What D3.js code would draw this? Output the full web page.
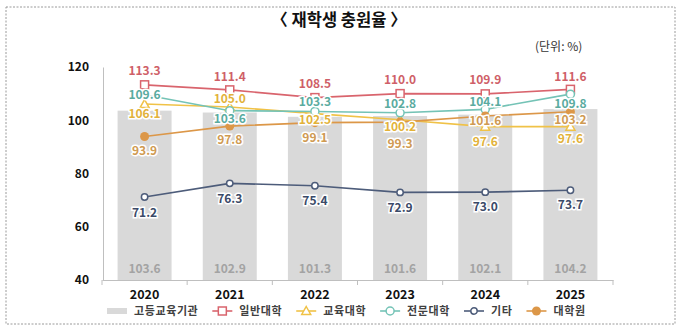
<!DOCTYPE html>
<html><head><meta charset="utf-8">
<script src="https://cdn.jsdelivr.net/npm/d3@7"></script>
<style>
html,body{margin:0;padding:0;background:#fff;}
svg{display:block;font-family:"Noto Sans CJK KR","Noto Sans",sans-serif;}
</style></head>
<body><svg id="c" width="680" height="334"></svg>
<script>
// ---- data ----
const years = ["2020","2021","2022","2023","2024","2025"];
const total = [103.6,102.9,101.3,101.6,102.1,104.2];      // 고등교육기관 (bars)
const general = [113.3,111.4,108.5,110.0,109.9,111.6];    // 일반대학
const education = [106.1,105.0,102.5,100.2,97.6,97.6];    // 교육대학
const junior = [109.6,103.6,103.3,102.8,104.1,109.8];     // 전문대학
const others = [71.2,76.3,75.4,72.9,73.0,73.7];           // 기타
const graduate = [93.9,97.8,99.1,99.3,101.6,103.2];       // 대학원
const yTicks = [40,60,80,100,120];
const title = "〈 재학생 충원율 〉";
const unit = "(단위: %)";

// label placement (vertical offset from marker, px)
const labelDy = {
  general:[-14,-13,-14,-14,-14,-13],
  education:[10,-8,6,7,15,12],
  junior:[0,8,-10,-9,-8,10],
  others:[16,15,15,15,15,15],
  graduate:[14,14,15,22,5,8]
};

const series = [
  {key:"general", name:"일반대학", values:general, color:"#d9646d", text:"#cf5f68", marker:"square"},
  {key:"education", name:"교육대학", values:education, color:"#f0c247", text:"#e2b23a", marker:"triangle"},
  {key:"junior", name:"전문대학", values:junior, color:"#74c3b6", text:"#5aab9f", marker:"circle"},
  {key:"others", name:"기타", values:others, color:"#4d5c7a", text:"#3b4a68", marker:"smallcircle"},
  {key:"graduate", name:"대학원", values:graduate, color:"#dc9748", text:"#cf9a52", marker:"dot"}
];

const svg = d3.select("#c");
const x = d3.scaleBand().domain(years).range([102,613]).paddingInner(0).paddingOuter(0);
const y = d3.scaleLinear().domain([40,120]).range([280,67]);
const cx = d => x(d) + x.bandwidth()/2;

// border
svg.append("rect").attr("x",6).attr("y",7).attr("width",669).attr("height",317)
  .attr("fill","none").attr("stroke","#9a9a9a").attr("stroke-width",1).attr("stroke-dasharray","2,1.5");

// title
svg.append("text").attr("x",339).attr("y",26).attr("text-anchor","middle")
  .attr("font-size",16.5).attr("font-weight",700).attr("fill","#111").text(title);
svg.append("text").attr("x",535).attr("y",51).attr("font-size",12).attr("fill","#333").text(unit);

// bars
const barW = 54;
svg.append("g").selectAll("rect").data(years).join("rect")
  .attr("x",d=>cx(d)-barW/2).attr("width",barW)
  .attr("y",(d,i)=>y(total[i])).attr("height",(d,i)=>y(40)-y(total[i]))
  .attr("fill","#d9d9d9");
svg.append("g").selectAll("text").data(years).join("text")
  .attr("x",d=>cx(d)).attr("y",273).attr("text-anchor","middle")
  .attr("font-size",12).attr("font-weight",700).attr("fill","#a3a3a3")
  .text((d,i)=>total[i].toFixed(1));

// y axis
const yAxis = svg.append("g").attr("transform","translate(103,0)")
  .call(d3.axisLeft(y).tickValues(yTicks).tickSize(0).tickPadding(14));
yAxis.select(".domain").attr("stroke","#bfbfbf");
yAxis.selectAll("text").attr("font-size",12).attr("font-weight",700).attr("fill","#111")
  .attr("font-family","'Noto Sans CJK KR',sans-serif");

// x axis
const xAxis = svg.append("g").attr("transform","translate(0,280)")
  .call(d3.axisBottom(x).tickSize(0).tickPadding(10));
xAxis.select(".domain").attr("stroke","#bfbfbf");
xAxis.selectAll("text").attr("font-size",12.5).attr("font-weight",700).attr("fill","#111")
  .attr("font-family","'Noto Sans CJK KR',sans-serif");
const bounds = years.map(d=>x(d)).concat([x(years[years.length-1])+x.bandwidth()]);
svg.append("g").selectAll("line").data(bounds).join("line")
  .attr("x1",d=>d).attr("x2",d=>d).attr("y1",280).attr("y2",285).attr("stroke","#bfbfbf");

function drawMarker(g, type, color, px, py){
  if(type==="square") g.append("rect").attr("x",px-4).attr("y",py-4).attr("width",8).attr("height",8)
      .attr("fill","#fff").attr("stroke",color).attr("stroke-width",1.5);
  else if(type==="triangle") g.append("path").attr("d",`M${px},${py-4.5}L${px+4.5},${py+3.5}L${px-4.5},${py+3.5}Z`)
      .attr("fill","#fff").attr("stroke",color).attr("stroke-width",1.5);
  else if(type==="circle") g.append("circle").attr("cx",px).attr("cy",py).attr("r",4)
      .attr("fill","#fff").attr("stroke",color).attr("stroke-width",1.5);
  else if(type==="smallcircle") g.append("circle").attr("cx",px).attr("cy",py).attr("r",3.2)
      .attr("fill","#fff").attr("stroke",color).attr("stroke-width",1.5);
  else g.append("circle").attr("cx",px).attr("cy",py).attr("r",4.5).attr("fill",color);
}

// lines
const line = d3.line().x((v,i)=>cx(years[i])).y(v=>y(v));
const gl = svg.append("g");
series.forEach(s=>{
  gl.append("path").attr("d",line(s.values)).attr("fill","none")
    .attr("stroke",s.color).attr("stroke-width",1.6);
});
series.forEach(s=>{
  s.values.forEach((v,i)=>drawMarker(gl,s.marker,s.color,cx(years[i]),y(v)));
});
// labels
const glab = svg.append("g");
series.forEach(s=>{
  s.values.forEach((v,i)=>{
    glab.append("text").attr("x",cx(years[i])).attr("y",y(v)+labelDy[s.key][i])
      .attr("dy","0.35em").attr("text-anchor","middle")
      .attr("font-size",12).attr("font-weight",700).attr("fill",s.text)
      .attr("stroke","#fff").attr("stroke-width",3).attr("paint-order","stroke")
      .text(v.toFixed(1));
  });
});

// legend
const lg = svg.append("g").attr("transform","translate(0,311)");
let lx = 107;
const legItems = [{name:"고등교육기관", bar:true}].concat(series);
legItems.forEach(it=>{
  if(it.bar){
    lg.append("rect").attr("x",lx).attr("y",-3).attr("width",20).attr("height",6).attr("fill","#d9d9d9");
  } else {
    lg.append("line").attr("x1",lx).attr("x2",lx+20).attr("y1",0).attr("y2",0)
      .attr("stroke",it.color).attr("stroke-width",1.6);
    drawMarker(lg,it.marker,it.color,lx+10,0);
  }
  const t = lg.append("text").attr("x",lx+27).attr("y",0).attr("dy","0.35em")
    .attr("font-size",11).attr("font-weight",700).attr("fill","#404040").attr("letter-spacing",0.6).text(it.name);
  lx += 27 + t.node().getComputedTextLength() + 14;
});
</script></body></html>
